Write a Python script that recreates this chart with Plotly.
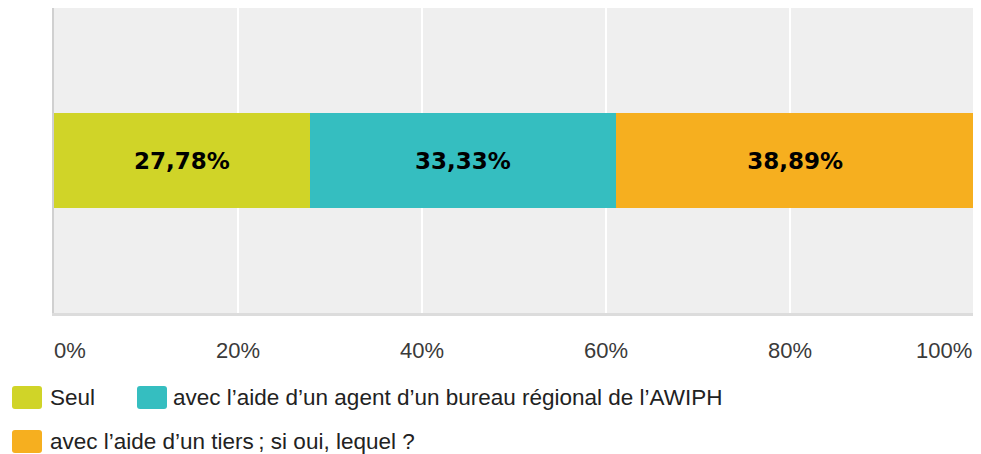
import plotly.graph_objects as go

categories = ["Seul", "avec l\u2019aide d\u2019un agent d\u2019un bureau r\u00e9gional de l\u2019AWIPH",
              "avec l\u2019aide d\u2019un tiers\u202f; si oui, lequel ?"]
values = [27.78, 33.33, 38.89]
colors = ["#d0d428", "#35bec0", "#f6af1f"]
tick_vals = [0, 20, 40, 60, 80, 100]
tick_text = ["0%", "20%", "40%", "60%", "80%", "100%"]

OFF = 8  # default page body margin
W, H = 981 - OFF, 454 - OFF
L, R, T, B = 54 - OFF, 7, 0, 454 - 313
PW = W - L - R
PH = H - T - B

fig = go.Figure()
for name, v, c in zip(categories, values, colors):
    fig.add_trace(go.Bar(
        x=[v], y=[""], orientation="h", name=name,
        marker=dict(color=c, line=dict(width=0)),
        width=0.314,
        text=[v], texttemplate="%{x:.2f}%", textposition="inside",
        insidetextanchor="middle", textangle=0, constraintext="none",
        textfont=dict(family="DejaVu Sans", size=23, color="#000000", weight="bold"),
        showlegend=False, hoverinfo="skip",
    ))

annotations = []
for tv, tt in zip(tick_vals, tick_text):
    anchor = "left" if tv == tick_vals[0] else ("right" if tv == tick_vals[-1] else "center")
    annotations.append(dict(x=tv, y=0, xref="x", yref="paper", text=tt, showarrow=False,
                            xanchor=anchor, yanchor="middle", yshift=-37,
                            xshift=(-2 if anchor == "left" else 0),
                            font=dict(family="Liberation Sans", size=22, color="#3a3a3a")))

# custom legend (reference pixel positions, shifted by page margin)
def px_to_paper_x(px):
    return (px - OFF - L) / PW

def px_to_paper_y(py):
    return (T + PH - (py - OFF)) / PH

legend_pos = [(12, 397.5, 48), (137, 397.5, 171), (12, 441.5, 48)]
shapes = []
w, h, r = 30, 23, 3
for (lx, ly, tx), name, c in zip(legend_pos, categories, colors):
    cx = px_to_paper_x(lx + w / 2)
    cy = px_to_paper_y(ly)
    hw, hh = w / 2, h / 2
    path = (f"M{-hw + r},{-hh} L{hw - r},{-hh} Q{hw},{-hh} {hw},{-hh + r} "
            f"L{hw},{hh - r} Q{hw},{hh} {hw - r},{hh} L{-hw + r},{hh} "
            f"Q{-hw},{hh} {-hw},{hh - r} L{-hw},{-hh + r} Q{-hw},{-hh} {-hw + r},{-hh} Z")
    shapes.append(dict(type="path", xref="paper", yref="paper", xsizemode="pixel",
                       ysizemode="pixel", xanchor=cx, yanchor=cy, path=path,
                       fillcolor=c, line=dict(width=0), layer="above"))
    annotations.append(dict(x=px_to_paper_x(tx), y=cy, xref="paper", yref="paper",
                            text=name, showarrow=False, xanchor="left", yanchor="middle",
                            font=dict(family="Liberation Sans", size=22.5, color="#222222")))

fig.update_layout(
    width=W, height=H,
    margin=dict(l=L, r=R, t=T, b=B, pad=0),
    barmode="stack",
    separators=",.",
    plot_bgcolor="#efefef",
    paper_bgcolor="#ffffff",
    xaxis=dict(range=[0, 100], tickvals=tick_vals, showticklabels=False,
               showgrid=True, gridcolor="#ffffff", gridwidth=2, zeroline=False,
               showline=True, linecolor="#dcdcdc", linewidth=3, fixedrange=True),
    yaxis=dict(range=[-0.5, 0.5], showticklabels=False, showgrid=False, zeroline=False,
               showline=True, linecolor="#d0d0d0", linewidth=2, fixedrange=True),
    annotations=annotations,
    shapes=shapes,
    showlegend=False,
)

fig.write_html("out.html")
